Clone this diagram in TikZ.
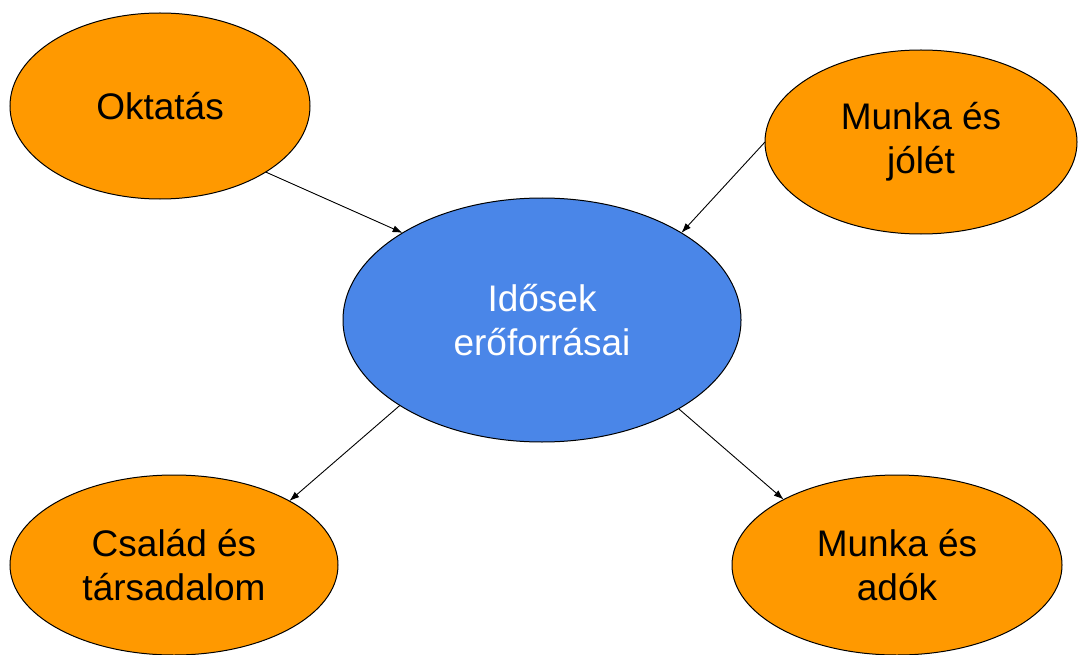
\documentclass[tikz,border=0pt]{standalone}
\usepackage{fontspec}
\setmainfont{Liberation Sans}
\usetikzlibrary{shapes.geometric,arrows.meta}
\definecolor{topicorange}{HTML}{FF9900}
\definecolor{coreblue}{HTML}{4A86E8}
\begin{document}
\begin{tikzpicture}[x=1pt, y=-1pt,
        topic/.style={ellipse, draw=black, line width=1pt, fill=topicorange, inner sep=0pt, outer sep=0pt, align=center, font=\fontsize{37}{44}\selectfont},
        link/.style={-{Latex[length=10pt, width=7pt]}, line width=0.9pt}]
        \useasboundingbox (0, 0) rectangle (1078, 655);
        \node[topic, fill=coreblue, text=white, minimum width=398, minimum height=244] (core) at (542, 320) {Idősek\\erőforrásai};
        \node[topic, minimum width=300, minimum height=186] (okt) at (160, 106) {Oktatás};
        \node[topic, minimum width=312, minimum height=184] (jolet) at (921, 142) {Munka és\\jólét};
        \node[topic, minimum width=328, minimum height=180] (csalad) at (174, 565) {Család és\\társadalom};
        \node[topic, minimum width=330, minimum height=180] (adok) at (897, 565) {Munka és\\adók};
        \draw[link] (okt.-32) -- (core.148.5);
        \draw[link] (jolet.180) -- (core.32.6);
        \draw[link] (core.211.5) -- (csalad.29);
        \draw[link] (core.-33) -- (adok.150.7);
    \end{tikzpicture}
\end{document}
